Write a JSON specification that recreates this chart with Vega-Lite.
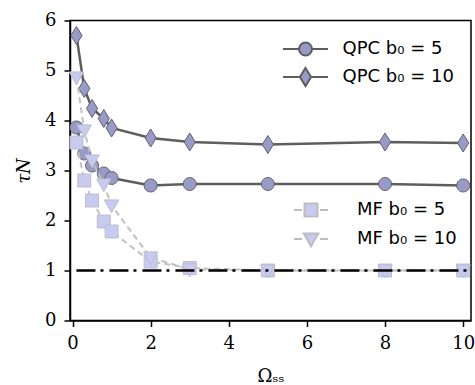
{
  "$schema": "https://vega.github.io/schema/vega-lite/v6.json",
  "width": 401,
  "height": 300,
  "autosize": "none",
  "padding": {"left": 70, "top": 20.5, "right": 4, "bottom": 64.5},
  "background": "white",
  "config": {
    "view": {"stroke": "black", "strokeWidth": 1.5},
    "axis": {
      "grid": false,
      "domainColor": "black",
      "domainWidth": 1.5,
      "tickColor": "black",
      "tickWidth": 1.5,
      "tickSize": 6,
      "labelFont": "DejaVu Serif",
      "labelFontSize": 18,
      "labelColor": "black",
      "labelPadding": 8,
      "titleFont": "DejaVu Serif",
      "titleFontSize": 18,
      "titleFontWeight": "normal",
      "titleColor": "black"
    }
  },
  "data": {
    "values": [
      {"g": "QPC", "s": "QPC b₀ = 5", "x": 0.1, "y": 3.86},
      {"g": "QPC", "s": "QPC b₀ = 5", "x": 0.3, "y": 3.34},
      {"g": "QPC", "s": "QPC b₀ = 5", "x": 0.5, "y": 3.1},
      {"g": "QPC", "s": "QPC b₀ = 5", "x": 0.8, "y": 2.94},
      {"g": "QPC", "s": "QPC b₀ = 5", "x": 1.0, "y": 2.85},
      {"g": "QPC", "s": "QPC b₀ = 5", "x": 2, "y": 2.7},
      {"g": "QPC", "s": "QPC b₀ = 5", "x": 3, "y": 2.73},
      {"g": "QPC", "s": "QPC b₀ = 5", "x": 5, "y": 2.73},
      {"g": "QPC", "s": "QPC b₀ = 5", "x": 8, "y": 2.73},
      {"g": "QPC", "s": "QPC b₀ = 5", "x": 10, "y": 2.7},
      {"g": "QPC", "s": "QPC b₀ = 10", "x": 0.1, "y": 5.7},
      {"g": "QPC", "s": "QPC b₀ = 10", "x": 0.3, "y": 4.64},
      {"g": "QPC", "s": "QPC b₀ = 10", "x": 0.5, "y": 4.24},
      {"g": "QPC", "s": "QPC b₀ = 10", "x": 0.8, "y": 4.04},
      {"g": "QPC", "s": "QPC b₀ = 10", "x": 1.0, "y": 3.85},
      {"g": "QPC", "s": "QPC b₀ = 10", "x": 2, "y": 3.65},
      {"g": "QPC", "s": "QPC b₀ = 10", "x": 3, "y": 3.57},
      {"g": "QPC", "s": "QPC b₀ = 10", "x": 5, "y": 3.52},
      {"g": "QPC", "s": "QPC b₀ = 10", "x": 8, "y": 3.57},
      {"g": "QPC", "s": "QPC b₀ = 10", "x": 10, "y": 3.55},
      {"g": "MF", "s": "MF b₀ = 5", "x": 0.1, "y": 3.56},
      {"g": "MF", "s": "MF b₀ = 5", "x": 0.3, "y": 2.8},
      {"g": "MF", "s": "MF b₀ = 5", "x": 0.5, "y": 2.4},
      {"g": "MF", "s": "MF b₀ = 5", "x": 0.8, "y": 1.98},
      {"g": "MF", "s": "MF b₀ = 5", "x": 1.0, "y": 1.78},
      {"g": "MF", "s": "MF b₀ = 5", "x": 2, "y": 1.18},
      {"g": "MF", "s": "MF b₀ = 5", "x": 3, "y": 1.05},
      {"g": "MF", "s": "MF b₀ = 5", "x": 5, "y": 1.0},
      {"g": "MF", "s": "MF b₀ = 5", "x": 8, "y": 1.0},
      {"g": "MF", "s": "MF b₀ = 5", "x": 10, "y": 1.0},
      {"g": "MF", "s": "MF b₀ = 10", "x": 0.1, "y": 4.86},
      {"g": "MF", "s": "MF b₀ = 10", "x": 0.3, "y": 3.8},
      {"g": "MF", "s": "MF b₀ = 10", "x": 0.5, "y": 3.2},
      {"g": "MF", "s": "MF b₀ = 10", "x": 0.8, "y": 2.72},
      {"g": "MF", "s": "MF b₀ = 10", "x": 1.0, "y": 2.3},
      {"g": "MF", "s": "MF b₀ = 10", "x": 2, "y": 1.26},
      {"g": "MF", "s": "MF b₀ = 10", "x": 3, "y": 1.02},
      {"g": "MF", "s": "MF b₀ = 10", "x": 5, "y": 1.0},
      {"g": "MF", "s": "MF b₀ = 10", "x": 8, "y": 1.0},
      {"g": "MF", "s": "MF b₀ = 10", "x": 10, "y": 1.0},
      {"g": "ref", "s": "ref", "x": 0.1, "y": 1.0},
      {"g": "ref", "s": "ref", "x": 10.15, "y": 1.0}
    ]
  },
  "encoding": {
    "x": {
      "field": "x", "type": "quantitative",
      "scale": {"domain": [-0.065, 10.2], "nice": false, "zero": false},
      "axis": {"values": [0, 2, 4, 6, 8, 10], "title": "Ωₛₛ", "titlePadding": 15}
    },
    "y": {
      "field": "y", "type": "quantitative",
      "scale": {"domain": [0, 6], "nice": false},
      "axis": {"values": [0, 1, 2, 3, 4, 5, 6], "title": "τN", "titlePadding": 11, "titleFontStyle": "italic"}
    }
  },
  "layer": [
    {
      "transform": [{"filter": "datum.g === 'QPC'"}],
      "mark": {"type": "line", "color": "#5e5e5e", "strokeWidth": 2.5},
      "encoding": {"detail": {"field": "s"}}
    },
    {
      "transform": [{"filter": "datum.g === 'QPC'"}],
      "mark": {"type": "point", "filled": true, "size": 324, "fill": "#9a9ac6", "stroke": "#606070", "strokeWidth": 1, "opacity": 1, "fillOpacity": 1},
      "encoding": {
        "shape": {
          "field": "s", "type": "nominal",
          "scale": {
            "domain": ["QPC b₀ = 5", "QPC b₀ = 10"],
            "range": [
              "M-0.72,0A0.72,0.72 0 1 0 0.72,0A0.72,0.72 0 1 0 -0.72,0Z",
              "M0,-1L0.62,0L0,1L-0.62,0Z"
            ]
          },
          "legend": null
        }
      }
    },
    {
      "transform": [{"filter": "datum.g === 'QPC'"}],
      "mark": {"type": "point", "filled": true, "size": 324, "opacity": 0, "fill": "#9a9ac6", "stroke": "#5e5e5e", "strokeWidth": 2},
      "encoding": {
        "shape": {
          "field": "s", "type": "nominal",
          "scale": {
            "domain": ["QPC b₀ = 5", "QPC b₀ = 10"],
            "range": [
              "M-2.5,0H-0.72M0.72,0H2.5M-0.72,0A0.72,0.72 0 1 0 0.72,0A0.72,0.72 0 1 0 -0.72,0Z",
              "M-2.5,0H-0.62M0.62,0H2.5M0,-1L0.62,0L0,1L-0.62,0Z"
            ]
          },
          "legend": {
            "orient": "none", "legendX": 225.5, "legendY": 18.5,
            "title": null, "padding": 0, "symbolSize": 324,
            "symbolOpacity": 1, "symbolStrokeWidth": 2,
            "labelOffset": 27, "rowPadding": 4,
            "labelFont": "DejaVu Sans", "labelFontSize": 18, "labelColor": "black"
          }
        }
      }
    },
    {
      "transform": [{"filter": "datum.g === 'MF'"}],
      "mark": {"type": "line", "color": "#c2c2c2", "strokeWidth": 2, "strokeDash": [6, 4]},
      "encoding": {"detail": {"field": "s"}}
    },
    {
      "transform": [{"filter": "datum.g === 'MF'"}],
      "mark": {"type": "point", "filled": true, "size": 324, "fill": "#c8caf0", "stroke": "#bcbcd0", "strokeWidth": 1, "opacity": 1, "fillOpacity": 1},
      "encoding": {
        "shape": {
          "field": "s", "type": "nominal",
          "scale": {
            "domain": ["MF b₀ = 5", "MF b₀ = 10"],
            "range": [
              "M-0.72,-0.72H0.72V0.72H-0.72Z",
              "M-0.8,-0.62H0.8L0,0.8Z"
            ]
          },
          "legend": null
        }
      }
    },
    {
      "transform": [{"filter": "datum.g === 'MF'"}],
      "mark": {"type": "point", "filled": true, "size": 324, "opacity": 0, "fill": "#c8caf0", "stroke": "#bdbdbd", "strokeWidth": 2},
      "encoding": {
        "shape": {
          "field": "s", "type": "nominal",
          "scale": {
            "domain": ["MF b₀ = 5", "MF b₀ = 10"],
            "range": [
              "M-1.9,0H-1.0M1.0,0H1.9M-0.72,-0.72H0.72V0.72H-0.72Z",
              "M-1.9,0H-1.0M1.0,0H1.9M-0.8,-0.62H0.8L0,0.8Z"
            ]
          },
          "legend": {
            "orient": "none", "legendX": 231, "legendY": 179.5,
            "title": null, "padding": 0, "symbolSize": 324,
            "symbolOpacity": 1, "symbolStrokeWidth": 2,
            "labelOffset": 36, "rowPadding": 8,
            "labelFont": "DejaVu Sans", "labelFontSize": 18, "labelColor": "black"
          }
        }
      }
    },
    {
      "transform": [{"filter": "datum.g === 'ref'"}],
      "mark": {"type": "line", "color": "black", "strokeWidth": 2.5, "strokeDash": [19, 5, 3, 6]},
      "encoding": {}
    }
  ],
  "resolve": {"scale": {"shape": "independent"}}
}
